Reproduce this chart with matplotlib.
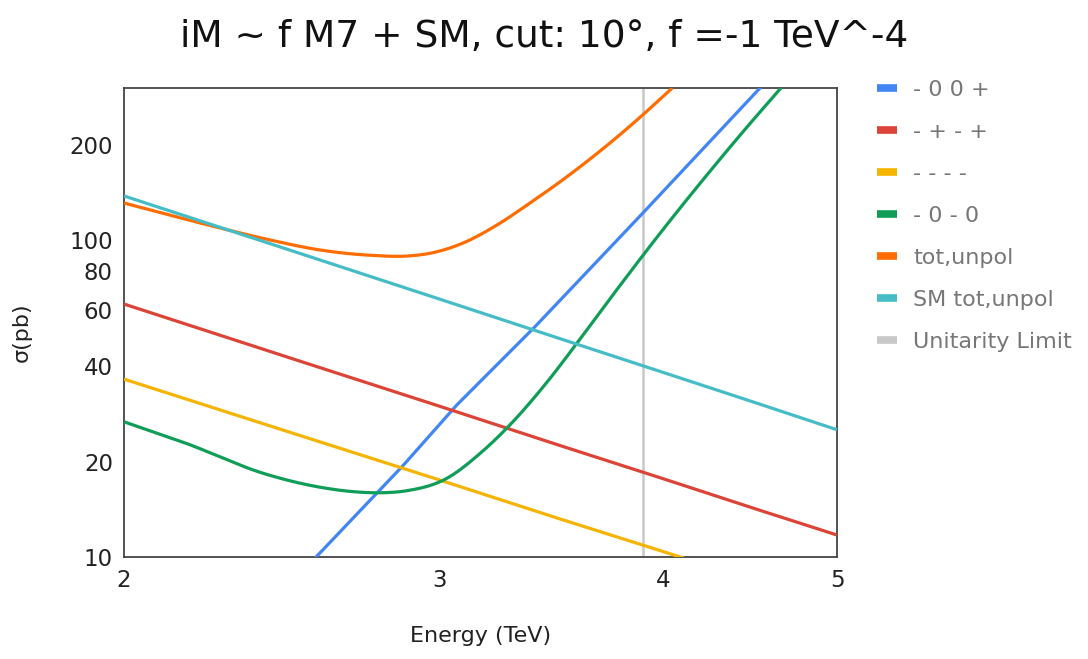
import matplotlib
matplotlib.use("Agg")
import numpy as np
import matplotlib.pyplot as plt
from matplotlib.ticker import FixedLocator, NullLocator, FixedFormatter
from matplotlib.lines import Line2D

# ---- data ----
title = "iM ~ f M7 + SM, cut: 10°, f =-1 TeV^-4"

e_blue = [2.50, 2.56, 2.862, 3.068, 3.392, 3.898, 4.529, 4.60]
s_blue = [8.7, 10.0, 19.4, 30.2, 53.3, 122.0, 301.6, 330.0]

e_red = [2.0, 2.5, 3.0, 3.5, 4.0, 4.5, 5.0]
s_red = [62.8, 41.7, 29.9, 22.5, 17.65, 14.2, 11.73]

e_yellow = [2.0, 2.5, 3.0, 3.5, 4.0, 4.5]
s_yellow = [36.4, 24.3, 17.5, 13.2, 10.4, 8.4]

e_green = [2.0, 2.077, 2.168, 2.263, 2.362, 2.465, 2.573, 2.686, 2.791, 2.876,
           3.028, 3.160, 3.284, 3.443, 3.579, 3.751, 3.898, 4.008, 4.265,
           4.452, 4.657]
s_green = [26.7, 24.8, 22.8, 20.7, 18.8, 17.5, 16.6, 16.07, 15.95, 16.18,
           17.7, 21.2, 26.1, 35.5, 47.2, 67.4, 89.7, 109.8, 169.6,
           226.5, 303.5]

e_orange = [2.0, 2.263, 2.413, 2.573, 2.744, 2.888, 2.964, 3.092, 3.230,
            3.370, 3.516, 3.673, 3.832, 3.898, 4.046]
s_orange = [130.8, 109.1, 100.0, 93.0, 89.5, 89.1, 90.8, 97.8, 111.5,
            130.8, 155.0, 187.4, 228.7, 248.9, 301.6]

e_sm = [2.0, 2.5, 3.0, 3.5, 4.0, 4.5, 5.0]
s_sm = [137.7, 91.2, 65.1, 48.9, 38.2, 30.7, 25.2]

unitarity_limit = 3.898

x_ticks = [2, 3, 4, 5]
y_ticks = [10, 20, 40, 60, 80, 100, 200]

labels = ["- 0 0 +", "- + - +", "- - - -", "- 0 - 0", "tot,unpol",
          "SM tot,unpol", "Unitarity Limit"]
colors = ["#4285F4", "#DB4437", "#F4B400", "#0F9D58", "#FF6D00",
          "#46BDC6", "#C8C8C8"]


def smooth_loglog(x, y, n=20):
    """Cubic Hermite curve through the read points, in log-log space."""
    lx = np.log(np.asarray(x, float))
    ly = np.log(np.asarray(y, float))
    h = np.diff(lx)
    d = np.diff(ly) / h
    m = np.empty_like(lx)
    m[0], m[-1] = d[0], d[-1]
    m[1:-1] = (h[:-1] * d[1:] + h[1:] * d[:-1]) / (h[:-1] + h[1:])
    xs, ys = [], []
    t = np.linspace(0, 1, n, endpoint=False)
    for i in range(len(h)):
        h00 = 2 * t ** 3 - 3 * t ** 2 + 1
        h10 = t ** 3 - 2 * t ** 2 + t
        h01 = -2 * t ** 3 + 3 * t ** 2
        h11 = t ** 3 - t ** 2
        xs.append(lx[i] + t * h[i])
        ys.append(h00 * ly[i] + h10 * h[i] * m[i] + h01 * ly[i + 1]
                  + h11 * h[i] * m[i + 1])
    xs.append([lx[-1]])
    ys.append([ly[-1]])
    return np.exp(np.concatenate(xs)), np.exp(np.concatenate(ys))


# ---- figure ----
fig = plt.figure(figsize=(10.88, 6.59), dpi=100)
ax = fig.add_axes([124 / 1088, 102 / 659, 713 / 1088, 469 / 659])

series = [(e_blue, s_blue, False), (e_red, s_red, False),
          (e_yellow, s_yellow, False), (e_green, s_green, True),
          (e_orange, s_orange, True), (e_sm, s_sm, False)]
for (e, s, curved), c in zip(series, colors[:6]):
    if curved:
        e, s = smooth_loglog(e, s)
    ax.plot(e, s, color=c, lw=2.3, solid_capstyle="butt", zorder=3)

ax.axvline(unitarity_limit, color=colors[6], lw=1.8, zorder=2)

ax.set_xscale("log")
ax.set_yscale("log")
ax.set_xlim(2, 5)
ax.set_ylim(10, 301.6)

ax.xaxis.set_major_locator(FixedLocator(x_ticks))
ax.xaxis.set_major_formatter(FixedFormatter([str(t) for t in x_ticks]))
ax.xaxis.set_minor_locator(NullLocator())
ax.yaxis.set_major_locator(FixedLocator(y_ticks))
ax.yaxis.set_major_formatter(FixedFormatter([str(t) for t in y_ticks]))
ax.yaxis.set_minor_locator(NullLocator())
ax.tick_params(axis="both", length=0, labelsize=16.5, colors="#222222")
ax.tick_params(axis="x", pad=8.5)
ax.tick_params(axis="y", pad=8)

for sp in ax.spines.values():
    sp.set_color("#444444")
    sp.set_linewidth(1.3)

ax.set_xlabel("Energy (TeV)", fontsize=16, color="#222222")
ax.xaxis.label.set_va("center")
ax.xaxis.set_label_coords(0.5, (557 - 636) / 469)
ax.set_ylabel("σ(pb)", fontsize=16, color="#222222")
ax.yaxis.label.set_va("center")
ax.yaxis.set_label_coords((22 - 124) / 713, 0.48)

fig.text(0.5, 1 - 37 / 659, title, ha="center", va="center", fontsize=27,
         color="#111111")

handles = [Line2D([], [], color=c, lw=5.5, solid_capstyle="butt") for c in colors]
leg = fig.legend(handles, labels, loc="upper left",
                 bbox_to_anchor=(868 / 1088, 1 - 71 / 659),
                 frameon=False, fontsize=16, handlelength=0.9,
                 handletextpad=0.72, labelspacing=0.99, borderaxespad=0)
for t in leg.get_texts():
    t.set_color("#777777")

fig.savefig("out.png", dpi=100)
